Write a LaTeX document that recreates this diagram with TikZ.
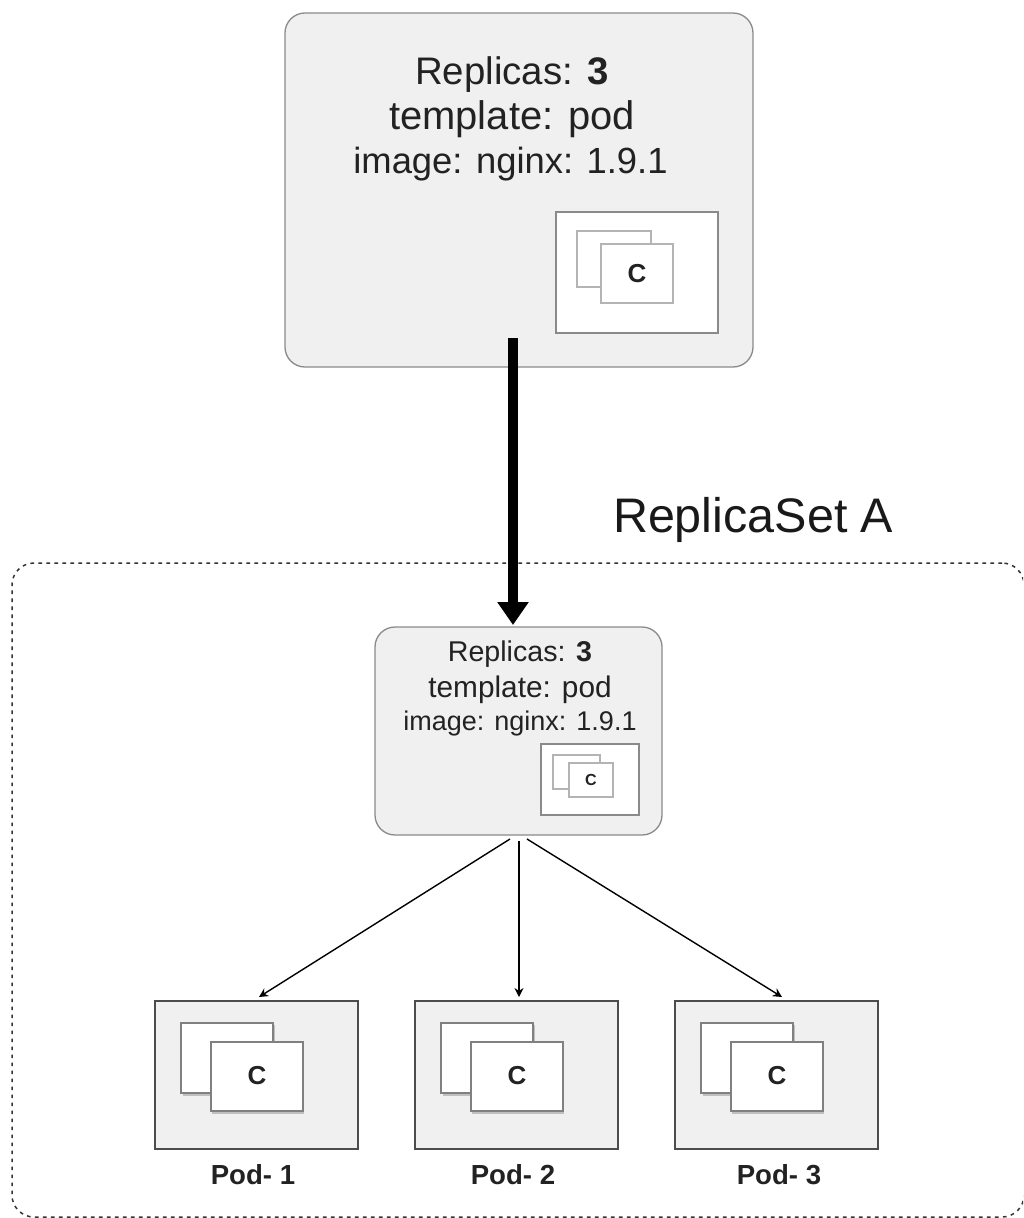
\documentclass[tikz,border=0pt]{standalone}
\usepackage{fontspec}
\setmainfont{Liberation Sans}
\usetikzlibrary{arrows.meta}
\definecolor{panel}{HTML}{F0F0F0}
\definecolor{edgegray}{HTML}{8A8A8A}
\definecolor{softgray}{HTML}{B4B4B4}
\definecolor{ink}{HTML}{222222}
\tikzset{
  x=1pt,y=-1pt,
  every node/.style={inner sep=0pt,outer sep=0pt,text=ink},
  rbox/.style={draw=edgegray,line width=1.3pt,fill=panel,rounded corners=20pt,anchor=north west},
  whitebox/.style={draw=edgegray,line width=1.2pt,fill=white,anchor=north west},
  ctrback/.style={draw=softgray,line width=1.2pt,fill=white,anchor=north west},
  ctrfront/.style={draw=softgray,line width=1.4pt,fill=white,anchor=north west},
  podbox/.style={draw=black!70,line width=1.7pt,fill=panel,anchor=north west,minimum width=203pt,minimum height=148pt},
  podback/.style={draw=black!50,line width=1.3pt,fill=white,anchor=north west,minimum width=92pt,minimum height=70pt},
  podfront/.style={draw=black!50,line width=1.3pt,fill=white,anchor=north west,minimum width=92pt,minimum height=69pt},
  conn/.style={draw=black,line width=1.4pt,-{Stealth[length=9pt,width=9pt]}},
  bigconn/.style={draw=black,line width=10pt,-{Triangle[length=23pt,width=30pt]}},
  clabel/.style={font=\fontsize{26}{30}\selectfont\bfseries},
  podlabel/.style={font=\fontsize{27.6}{30}\selectfont\bfseries},
}
\begin{document}
\begin{tikzpicture}
\useasboundingbox (0,0) rectangle (1023,1218);
\clip (0,0) rectangle (1023,1218);
% ReplicaSet frame
\node[draw=black!80,line width=1.5pt,dash pattern=on 3.6pt off 4.4pt,rounded corners=22pt,anchor=north west,minimum width=1012pt,minimum height=654pt] (frame) at (12,563) {};
\node[anchor=base west,font=\fontsize{48.5}{56}\selectfont,text=black!90] (rslabel) at (613,532) {ReplicaSet A};
% Top deployment
\node[rbox,minimum width=468pt,minimum height=354pt] (top) at (285,13) {};
\node[whitebox,minimum width=162pt,minimum height=121pt] (topin) at (556,212) {};
\node[ctrback,minimum width=74pt,minimum height=56pt] (topback) at (577,231) {};
\node[ctrfront,minimum width=72pt,minimum height=59pt] (topfront) at (601,244) {};
\node[font=\fontsize{26}{30}\selectfont\bfseries] (topc) at (637,274) {C};
\node[anchor=base,font=\fontsize{38.4}{44}\selectfont] (toptxt1) at (512,84) {Replicas: \textbf{3}};
\node[anchor=base,font=\fontsize{39.9}{44}\selectfont] (toptxt2) at (512,129) {template: pod};
\node[anchor=base,font=\fontsize{36.4}{44}\selectfont] (toptxt3) at (510.5,173) {image: nginx: 1.9.1};
% Middle ReplicaSet box
\node[rbox,minimum width=287pt,minimum height=208pt] (mid) at (375,627) {};
\node[whitebox,minimum width=98pt,minimum height=71pt] (midin) at (541,744) {};
\node[ctrback,minimum width=47pt,minimum height=34pt] (midback) at (553,755) {};
\node[ctrfront,minimum width=44pt,minimum height=34pt] (midfront) at (569,763) {};
\node[font=\fontsize{16}{20}\selectfont\bfseries] (midc) at (591,780) {C};
\node[anchor=base,font=\fontsize{28.6}{34}\selectfont] (midtxt1) at (520,661) {Replicas: \textbf{3}};
\node[anchor=base,font=\fontsize{29.8}{34}\selectfont] (midtxt2) at (520,697) {template: pod};
\node[anchor=base,font=\fontsize{27}{34}\selectfont] (midtxt3) at (520,730) {image: nginx: 1.9.1};
% Pods
\foreach \n/\dx in {1/0,2/260,3/520}{
  \node[podbox] (pod\n) at (155+\dx,1001) {};
  \fill[black!25] (181+\dx+2,1023+2) rectangle (273+\dx+2,1093+3);
  \node[podback] (podb\n) at (181+\dx,1023) {};
  \fill[black!25] (211+\dx+1,1042+2) rectangle (303+\dx+1,1111+3);
  \node[podfront] (podf\n) at (211+\dx,1042) {};
  \node[clabel] (podc\n) at (257+\dx,1076) {C};
}
\node[podlabel,anchor=base] (pl1) at (253,1184) {Pod- 1};
\node[podlabel,anchor=base] (pl2) at (513,1184) {Pod- 2};
\node[podlabel,anchor=base] (pl3) at (779,1184) {Pod- 3};
% Connectors
\coordinate (bigstart) at (513,338);
\coordinate (bigend) at (513,625);
\coordinate (o1) at (510,839);
\coordinate (o2) at (519,841);
\coordinate (o3) at (527,839);
\coordinate (e1) at (259,997);
\coordinate (e2) at (519,997);
\coordinate (e3) at (782,997);
\draw[bigconn] (bigstart) -- (bigend);
\draw[conn] (o1) -- (e1);
\draw[conn] (o2) -- (e2);
\draw[conn] (o3) -- (e3);
\end{tikzpicture}
\end{document}
